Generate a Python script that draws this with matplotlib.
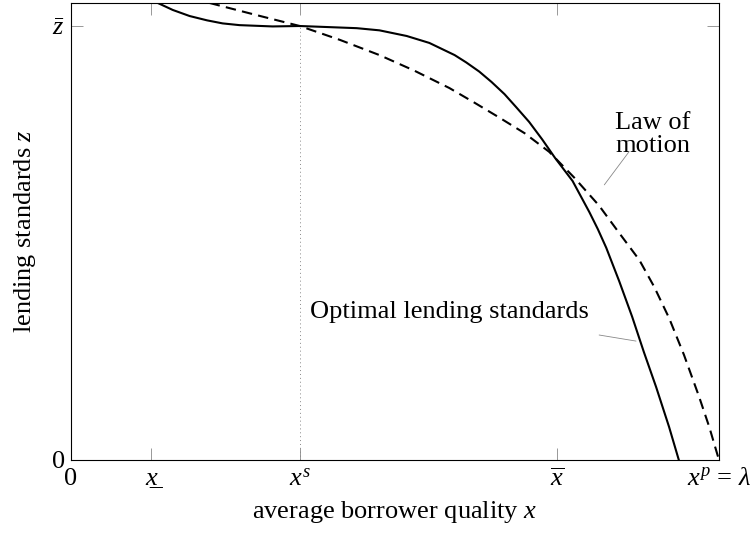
#!/usr/bin/env python3
"""Lending standards vs. average borrower quality (phase diagram)."""

import matplotlib

matplotlib.use("Agg")
import matplotlib.pyplot as plt

# values (x scaled so that lambda = 1, z so that z-bar = 1)
opt_x = [0.134, 0.157, 0.183, 0.210, 0.234, 0.260, 0.311, 0.353, 0.441, 0.476,
         0.518, 0.553, 0.592, 0.610, 0.630, 0.649, 0.669, 0.687, 0.707, 0.727,
         0.747, 0.774, 0.800, 0.813, 0.826, 0.846, 0.866, 0.884, 0.903, 0.923,
         0.938]
opt_z = [1.053, 1.037, 1.023, 1.013, 1.006, 1.002, 0.999, 1.000, 0.995, 0.990,
         0.977, 0.961, 0.933, 0.916, 0.895, 0.871, 0.843, 0.813, 0.779, 0.739,
         0.696, 0.643, 0.571, 0.532, 0.489, 0.412, 0.330, 0.249, 0.168, 0.076,
         0.0]

law_x = [0.214, 0.284, 0.353, 0.415, 0.476, 0.530, 0.584, 0.623, 0.661, 0.700,
         0.738, 0.777, 0.815, 0.846, 0.877, 0.900, 0.923, 0.946, 0.969, 0.985,
         1.0]
law_z = [1.053, 1.026, 1.000, 0.968, 0.933, 0.897, 0.857, 0.823, 0.789, 0.753,
         0.710, 0.650, 0.586, 0.523, 0.461, 0.399, 0.327, 0.242, 0.147, 0.076,
         0.0]

x_ticks = [0.0, 0.123, 0.353, 0.750, 1.0]
x_tick_labels = ["0", "x\u0332", "$x^s$", r"$\overline{x}$", r"$x^p\,=\,\lambda$"]
z_ticks = [0.0, 1.0]
z_tick_labels = ["0", r"$\bar{z}$"]

x_s = 0.353
z_bar = 1.0

FS = 19

plt.rcParams["font.family"] = ["Liberation Serif", "DejaVu Serif"]
plt.rcParams["mathtext.fontset"] = "custom"
plt.rcParams["mathtext.rm"] = "Liberation Serif"
plt.rcParams["mathtext.it"] = "Liberation Serif:italic"
plt.rcParams["font.size"] = FS

fig = plt.figure(figsize=(7.56, 5.33), dpi=100)
ax = fig.add_axes([71 / 756, 73 / 533, 648 / 756, 457 / 533])

ax.plot([x_s, x_s], [0, z_bar], color="#888888", linestyle=(0, (1, 3)), linewidth=0.7)
ax.plot(opt_x, opt_z, color="black", linewidth=1.5, solid_joinstyle="round")
ax.plot(law_x, law_z, color="black", linewidth=1.5, linestyle=(0, (5, 3)))

ax.set_xlim(0, 1.0)
ax.set_ylim(0, 1.053)

ax.set_xticks(x_ticks)
ax.set_xticklabels(x_tick_labels)
for lbl in ax.get_xticklabels():
    if lbl.get_text() == "x\u0332":
        lbl.set_style("italic")
ax.set_yticks(z_ticks)
ax.set_yticklabels(z_tick_labels)

ax.tick_params(direction="in", length=8.5, width=0.6, color="#888888",
               top=True, right=True, labelsize=FS)
ax.tick_params(axis="x", pad=6)
ax.tick_params(axis="y", pad=4)
for sp in ax.spines.values():
    sp.set_linewidth(0.8)

ax.set_xlabel("average borrower quality $x$", fontsize=FS, labelpad=6)
ax.set_ylabel("lending standards $z$", fontsize=FS, labelpad=10)

ax.text(0.584, 0.341, "Optimal lending standards", ha="center", va="center", fontsize=FS)
ax.annotate("", xy=(0.872, 0.274), xytext=(0.815, 0.288),
            arrowprops=dict(arrowstyle="-", color="#888888", lw=0.6,
                            shrinkA=0, shrinkB=0))
ax.text(0.898, 0.750, "Law of\nmotion", ha="center", va="center", fontsize=FS,
        linespacing=1.05)
ax.annotate("", xy=(0.823, 0.634), xytext=(0.861, 0.710),
            arrowprops=dict(arrowstyle="-", color="#888888", lw=0.6,
                            shrinkA=0, shrinkB=0))

fig.savefig("out.png", dpi=100)
plt.close(fig)
